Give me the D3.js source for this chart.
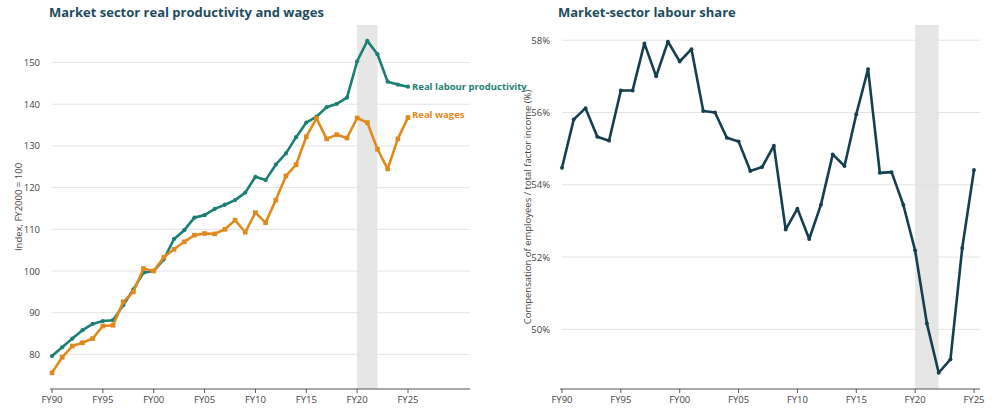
<!DOCTYPE html><html><head><meta charset="utf-8">
<script src="https://cdn.jsdelivr.net/npm/d3@7"></script>
<style>body{margin:0;background:#fff;font-family:"Open Sans",sans-serif}</style></head><body>
<svg id="c" width="1000" height="411"></svg>
<script>
const years = d3.range(1990, 2026);
const productivity = [79.6,81.7,83.8,85.8,87.3,88,88.2,91.8,95.6,99.6,100,102.8,107.7,109.8,112.8,113.4,114.9,115.9,117,118.8,122.6,121.8,125.5,128.2,132.1,135.6,137,139.3,140.1,141.6,150.3,155.2,152,145.4,144.7,144.2];
const wages = [75.6,79.3,82,82.8,83.8,86.8,87,92.6,95,100.6,100,103.3,105.2,107,108.6,109,108.9,110,112.2,109.3,114,111.6,117,122.8,125.5,132.2,136.6,131.7,132.7,131.9,136.7,135.6,129.2,124.5,131.7,136.8];
const labourShare = [54.47,55.81,56.12,55.33,55.22,56.61,56.61,57.91,57.0,57.96,57.41,57.75,56.04,56.0,55.3,55.2,54.38,54.49,55.08,52.76,53.34,52.5,53.45,54.84,54.52,55.95,57.2,54.33,54.35,53.44,52.18,50.16,48.8,49.17,52.25,54.41];
const xTicks = [1990,1995,2000,2005,2010,2015,2020,2025];
const leftTicks = [80,90,100,110,120,130,140,150];
const rightTicks = [50,52,54,56,58];
const shade = [2020, 2022];
const fy = y => "FY" + String(y % 100).padStart(2, "0");

const svg = d3.select("#c");
const teal = "#1b7f74", orange = "#e08a1e", navy = "#143f4f", titleC = "#1c4c5c";

function panel(o){
  const x = d3.scaleLinear().domain([1990, 2025]).range([o.x0, o.x1]);
  const y = d3.scaleLinear().domain(o.yd).range([o.yb, o.yt]);
  const g = svg.append("g");
  g.append("text").attr("x", o.tx).attr("y", 17).text(o.title)
    .attr("font-size", 13).attr("font-weight", 700).attr("fill", titleC);
  g.append("rect").attr("x", x(shade[0])).attr("width", x(shade[1]) - x(shade[0]))
    .attr("y", o.yt).attr("height", o.yb - o.yt).attr("fill", "#e6e6e6");
  o.ticks.forEach(t => {
    g.append("line").attr("x1", o.x0).attr("x2", o.axEnd).attr("y1", y(t)).attr("y2", y(t))
      .attr("stroke", "#e3e3e3").attr("stroke-width", 1);
    g.append("text").attr("x", o.x0 - 12).attr("y", y(t) + 3.5).attr("text-anchor", "end")
      .attr("font-size", 9.5).attr("fill", "#444").text(o.fmt(t));
  });
  g.append("line").attr("x1", o.x0 - 2).attr("x2", o.axEnd).attr("y1", o.yb).attr("y2", o.yb).attr("stroke", "#555");
  xTicks.forEach(t => {
    g.append("line").attr("x1", x(t)).attr("x2", x(t)).attr("y1", o.yb).attr("y2", o.yb + 4).attr("stroke", "#555");
    g.append("text").attr("x", x(t)).attr("y", o.yb + 14).attr("text-anchor", "middle")
      .attr("font-size", 9.5).attr("fill", "#444").text(fy(t));
  });
  g.append("text").attr("transform", `translate(${o.lx},${(o.yt + o.yb) / 2}) rotate(-90)`)
    .attr("text-anchor", "middle").attr("font-size", 9.5).attr("fill", "#444").text(o.ylabel);
  return {x, y, g};
}

const L = panel({x0:52, x1:408, axEnd:470, yt:25, yb:389, yd:[71.7, 159], ticks:leftTicks, fmt:d=>d,
  title:"Market sector real productivity and wages", tx:49, lx:22, ylabel:"Index, FY2000 = 100"});
function series(p, vals, col, sym, size){
  const line = d3.line().x((d,i)=>p.x(years[i])).y(d=>p.y(d));
  p.g.append("path").attr("d", line(vals)).attr("fill","none").attr("stroke",col).attr("stroke-width",2.6).attr("stroke-linejoin","round");
  p.g.selectAll(null).data(vals).enter().append("path")
    .attr("transform",(d,i)=>`translate(${p.x(years[i])},${p.y(d)})`)
    .attr("d", d3.symbol().type(sym).size(size)).attr("fill", col);
}
series(L, productivity, teal, d3.symbolCircle, 14);
series(L, wages, orange, d3.symbolSquare, 22);
L.g.append("text").attr("x", L.x(2025)+4).attr("y", L.y(144.2)+3).text("Real labour productivity")
  .attr("font-size",9.5).attr("font-weight",700).attr("fill",teal);
L.g.append("text").attr("x", L.x(2025)+4).attr("y", L.y(137.5)+3).text("Real wages")
  .attr("font-size",9.5).attr("font-weight",700).attr("fill",orange);

const R = panel({x0:562, x1:974, axEnd:980, yt:25, yb:389, yd:[48.35, 58.42], ticks:rightTicks, fmt:d=>d+"%",
  title:"Market-sector labour share", tx:558, lx:531, ylabel:"Compensation of employees / total factor income (%)"});
series(R, labourShare, navy, d3.symbolCircle, 12);
</script></body></html>
